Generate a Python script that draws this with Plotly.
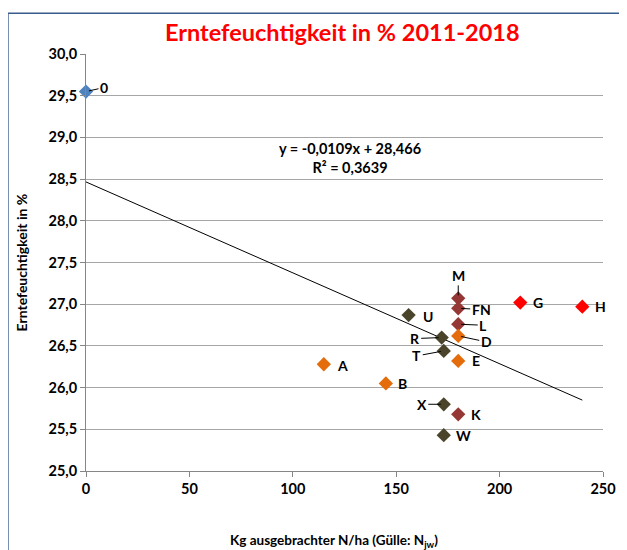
import plotly.graph_objects as go

# Versuchsglieder: N-Menge (kg/ha) und Erntefeuchtigkeit (%)
labels = ['0', 'A', 'B', 'U', 'R', 'T', 'X', 'W',
          'M', 'FN', 'L', 'D', 'E', 'K', 'G', 'H']
n_kg = [0, 115, 145, 156, 172, 173, 173, 173,
        180, 180, 180, 180, 180, 180, 210, 240]
feuchte = [29.55, 26.28, 26.05, 26.87, 26.60, 26.44, 25.80, 25.43,
           27.07, 26.95, 26.76, 26.62, 26.32, 25.68, 27.02, 26.97]
gruppe = ['blau', 'orange', 'orange', 'oliv', 'oliv', 'oliv', 'oliv', 'oliv',
          'braun', 'braun', 'braun', 'orange', 'orange', 'braun', 'rot', 'rot']

slope = -0.0109
intercept = 28.466
r2 = 0.3639
trend_x = [0, 240]

farben = {'blau': '#4F81BD', 'orange': '#E46C0A', 'oliv': '#4A452A',
          'braun': '#953735', 'rot': '#FF0000'}

# Beschriftungs-Versatz in Pixel (dx, dy), mit/ohne Fuehrungslinie
label_pos = {
    '0': (18, -4, True), 'A': (19, 1, False), 'B': (17, 0, False),
    'U': (19, 1, False), 'R': (-27, 1, True), 'T': (-27, 5, True),
    'X': (-22, 0, True), 'W': (20, 0, False), 'M': (0, -23, True),
    'FN': (23, 1, True), 'L': (25, 1, True), 'D': (28, 6, True),
    'E': (18, 0, False), 'K': (18, 0, False), 'G': (18, 0, False),
    'H': (18, 0, False),
}

FONT = 'Lato'

fig = go.Figure()

fig.add_trace(go.Scatter(
    x=trend_x,
    y=[slope * v + intercept for v in trend_x],
    mode='lines',
    line=dict(color='black', width=1),
    hoverinfo='skip',
))

fig.add_trace(go.Scatter(
    x=n_kg,
    y=feuchte,
    mode='markers',
    marker=dict(symbol='diamond', size=11,
                color=[farben[g] for g in gruppe]),
    text=labels,
    cliponaxis=False,
))

for lab, xv, yv in zip(labels, n_kg, feuchte):
    dx, dy, line = label_pos[lab]
    if line:
        fig.add_annotation(x=xv, y=yv, text='<b>%s</b>' % lab, showarrow=True,
                           ax=dx, ay=dy, arrowhead=0, arrowwidth=1,
                           arrowcolor='black', standoff=3,
                           font=dict(family=FONT, size=14, color='black'))
    else:
        fig.add_annotation(x=xv, y=yv, text='<b>%s</b>' % lab, showarrow=False,
                           xshift=dx, yshift=-dy,
                           font=dict(family=FONT, size=14, color='black'))

fig.add_annotation(
    x=127.5, y=28.75,
    text='<b>y = -0,0109x + 28,466<br>R² = 0,3639</b>',
    showarrow=False, bgcolor='white', align='center',
    font=dict(family=FONT, size=14.5, color='black'),
)

# Achsentitel
fig.add_annotation(xref='paper', yref='paper', x=0.48, y=-0.168,
                   text='<b>Kg ausgebrachter N/ha (Gülle: N<sub>jw</sub>)</b>',
                   showarrow=False, yanchor='middle',
                   font=dict(family=FONT, size=13.5, color='black'))
fig.add_annotation(xref='paper', yref='paper', x=-0.124, y=0.5,
                   text='<b>Erntefeuchtigkeit in %</b>', textangle=-90,
                   showarrow=False, xanchor='center',
                   font=dict(family=FONT, size=14, color='black'))

# Rahmen des Diagrammbereichs
fig.add_shape(type='rect', xref='paper', yref='paper',
              x0=-0.151, x1=1.2, y0=-0.4, y1=1.098,
              line=dict(color='#385D8A', width=1.5))

fig.update_layout(
    width=619, height=542,
    margin=dict(l=78, r=24, t=46, b=79),
    paper_bgcolor='white', plot_bgcolor='white',
    showlegend=False,
    separators=',.',
    title=dict(text='<b>Erntefeuchtigkeit in % 2011-2018</b>',
               x=0.54, xanchor='center', y=0.955, yanchor='middle',
               font=dict(family=FONT, size=23.5, color='#FF0000')),
    font=dict(family=FONT, size=13, color='black'),
)

fig.update_xaxes(range=[0, 250], dtick=50, showgrid=False, zeroline=False,
                 showline=True, linecolor='#868686', linewidth=1,
                 ticks='outside', ticklen=5, tickcolor='#868686',
                 tickfont=dict(family=FONT, size=14.5, color='black'),
                 tickprefix='<b>', ticksuffix='</b>')
fig.update_yaxes(range=[25, 30], dtick=0.5, tickformat='.1f',
                 showgrid=True, gridcolor='#A6A6A6', gridwidth=1,
                 zeroline=False, showline=True, linecolor='#868686',
                 linewidth=1, ticks='outside', ticklen=5,
                 tickcolor='#868686',
                 tickfont=dict(family=FONT, size=14.5, color='black'),
                 tickprefix='<b>', ticksuffix='</b>')

fig.write_html('out.html')
